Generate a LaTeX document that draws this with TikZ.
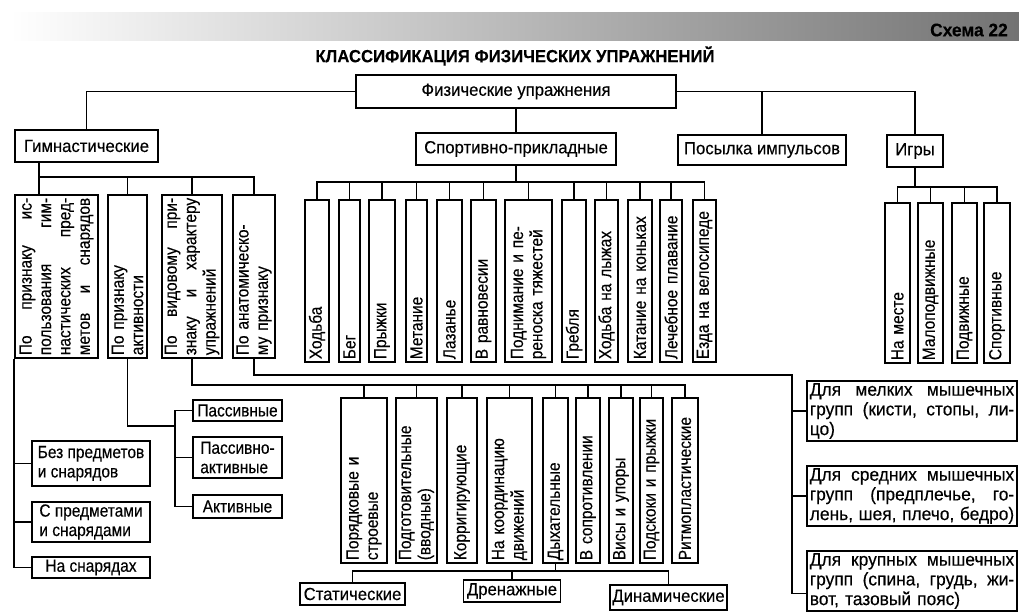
\documentclass[tikz,border=0pt]{standalone}
\usepackage{fontspec}
\setmainfont{Liberation Sans}[FakeStretch=0.95,FakeBold=0.3]
\newfontfamily\narrowfont{Liberation Sans}[FakeStretch=0.88,FakeBold=0.3]
\newcommand{\pxu}{0.025cm}
\newcommand{\jsp}{\hspace{0pt plus 1fill}}

\begin{document}
\begin{tikzpicture}[x=0.025cm,y=-0.025cm,
    box/.style={draw,line width=1.1pt,inner sep=1.5pt,align=left,font=\fontsize{12.5}{13.8}\selectfont},
    nfont/.style={font=\narrowfont\fontsize{12.5}{13.8}\selectfont},
    cell/.style n args={2}{box,minimum width=#1*\pxu,minimum height=#2*\pxu},
    ncell/.style n args={2}{cell={#1}{#2},nfont},
    tcell/.style n args={2}{cell={#1}{#2},font=\fontsize{13}{14}\selectfont,text width=#1*\pxu-4pt},
    vcell/.style n args={2}{box,nfont,rotate=90,minimum width=#1*\pxu,minimum height=#2*\pxu,text width=#1*\pxu-4pt},
    link/.style={line width=1.1pt}] %
    \useasboundingbox (0,0) rectangle (1019,612);
    \shade[left color=white,right color=black!55] (10,12) rectangle (1019,40);
    \node[font=\fontsize{13}{14}\bfseries] (scheme) at (969,30) {Схема 22};
    \node[font=\fontsize{12.5}{14}\bfseries] (title) at (515,56) {КЛАССИФИКАЦИЯ ФИЗИЧЕСКИХ УПРАЖНЕНИЙ};
    \node[cell={320}{33}] (phys) at (516,91.5) {Физические упражнения} ; %
    \node[cell={143}{32}] (gymn) at (86.5,146) {Гимнастические} ; %
    \node[cell={200}{32}] (sport) at (516,149) {Спортивно-прикладные} ; %
    \node[cell={168}{30}] (impulse) at (762,150) {Посылка импульсов} ; %
    \node[cell={56}{32}] (games) at (915,151) {Игры} ; %
    % gymnastics
    \node[vcell={163}{83}] (p1) at (56.5,276.5) {По\jsp признаку\jsp ис-\\пользования\jsp гим-\\настических\jsp пред-\\метов\jsp и\jsp снарядов};
    \node[vcell={163}{39}] (p2) at (127.5,276.5) {По признаку\\активности};
    \node[vcell={163}{60}] (p3) at (192,276.5) {По\jsp видовому\jsp при-\\знаку\jsp и\jsp характеру\\упражнений};
    \node[vcell={163}{42}] (p4) at (254,276.5) {По анатомическо-\\му признаку};
    \node[ncell={118}{45}] (noitems) at (91,463.5) {Без предметов\\и снарядов};
    \node[ncell={118}{40}] (withitems) at (91,522) {С предметами\\и снарядами};
    \node[ncell={118}{21}] (onapp) at (91,567.5) {На снарядах};
    \node[ncell={89}{21}] (passive) at (237.5,410.5) {Пассивные};
    \node[ncell={89}{41}] (passact) at (237.5,457.5) {Пассивно-\\активные};
    \node[ncell={89}{23}] (active) at (237.5,506.5) {Активные};
    \node[vcell={165}{46}] (k1) at (364,480.5) {Порядковые и\\строевые};
    \node[vcell={165}{41}] (k2) at (416.5,480.5) {Подготовительные\\(вводные)};
    \node[vcell={165}{30}] (k3) at (462,480.5) {Корригирующие};
    \node[vcell={165}{45}] (k4) at (509.5,480.5) {На координацию\\движений};
    \node[vcell={165}{25}] (k5) at (555.5,480.5) {Дыхательные};
    \node[vcell={165}{24}] (k6) at (588,480.5) {В сопротивлении};
    \node[vcell={165}{24}] (k7) at (621,480.5) {Висы и упоры};
    \node[vcell={165}{23}] (k8) at (651.5,480.5) {Подскоки и прыжки};
    \node[vcell={165}{26}] (k9) at (685,480.5) {Ритмопластические};
    \node[cell={105}{22}] (static) at (352.5,594) {Статические};
    \node[cell={97}{22}] (drain) at (512,591) {Дренажные};
    \node[cell={117}{25}] (dynamic) at (668.5,597.5) {Динамические};
    \node[tcell={210}{58}] (small) at (912,411) {Для\jsp мелких\jsp мышечных\\групп\jsp (кисти,\jsp стопы,\jsp ли-\\цо)};
    \node[tcell={210}{58}] (medium) at (912,496) {Для\jsp средних\jsp мышечных\\групп\jsp (предплечье,\jsp го-\\лень,\jsp шея,\jsp плечо,\jsp бедро)};
    \node[tcell={210}{58}] (large) at (912,581) {Для\jsp крупных\jsp мышечных\\групп\jsp (спина,\jsp грудь,\jsp жи-\\вот, тазовый пояс)};
    % sport
    \node[vcell={162}{24}] (s1) at (317,281) {Ходьба};
    \node[vcell={162}{21}] (s2) at (349.5,281) {Бег};
    \node[vcell={162}{26}] (s3) at (382,281) {Прыжки};
    \node[vcell={162}{21}] (s4) at (416.5,281) {Метание};
    \node[vcell={162}{25}] (s5) at (449.5,281) {Лазанье};
    \node[vcell={162}{25}] (s6) at (483.5,281) {В равновесии};
    \node[vcell={162}{47}] (s7) at (528.5,281) {Поднимание и пе-\\реноска тяжестей};
    \node[vcell={162}{24}] (s8) at (574,281) {Гребля};
    \node[vcell={162}{23}] (s9) at (606.5,281) {Ходьба на лыжах};
    \node[vcell={162}{24}] (s10) at (640,281) {Катание на коньках};
    \node[vcell={162}{22}] (s11) at (671,281) {Лечебное плавание};
    \node[vcell={162}{23}] (s12) at (704.5,281) {Езда на велосипеде};
    % games
    \node[vcell={160}{25}] (g1) at (897.5,283) {На месте};
    \node[vcell={160}{25}] (g2) at (930.5,283) {Малоподвижные};
    \node[vcell={160}{25}] (g3) at (964.5,283) {Подвижные};
    \node[vcell={160}{26}] (g4) at (997,283) {Спортивные};
    % connectors
    \coordinate (gbus) at (39,177);
    \coordinate (lbus) at (14,400);
    \coordinate (abus) at (175,426);
    \coordinate (kbus) at (192,385);
    \coordinate (bbus) at (555.5,571);
    \coordinate (mbus) at (792,375);
    \coordinate (sbus) at (516,182);
    \coordinate (ibus) at (915,187);
    \draw[link] (phys.west) -| (gymn.north);
    \draw[link] (phys.east) -| (games.north);
    \draw[link] (impulse.north) -- (impulse.north |- phys.east);
    \draw[link] (phys.south) -- (sport.north);
    \draw[link] (gymn.south -| gbus) -- (gbus |- p1.east);
    \draw[link] (gbus) -| (p4.east);
    \foreach \n in {p2,p3} \draw[link] (\n.east) -- (\n.east |- gbus);
    \draw[link] (p1.west -| lbus) |- (onapp.west);
    \draw[link] (noitems.west) -- (noitems.west -| lbus);
    \draw[link] (withitems.west) -- (withitems.west -| lbus);
    \draw[link] (p2.west) |- (abus);
    \draw[link] (passive.west) -| (abus |- active.west) -- (active.west);
    \draw[link] (passact.west) -- (passact.west -| abus);
    \draw[link] (p3.west) -- (kbus) -| (k9.east);
    \foreach \n in {k1,k2,k3,k4,k5,k6,k7,k8} \draw[link] (\n.east) -- (\n.east |- kbus);
    \draw[link] (k5.west) -- (bbus);
    \draw[link] (static.north) |- (bbus) -| (dynamic.north);
    \draw[link] (drain.north) -- (drain.north |- bbus);
    \draw[link] (p4.west) |- (mbus) |- ([yshift=-9pt]large.west);
    \draw[link] (small.west) -- (small.west -| mbus);
    \draw[link] (medium.west) -- (medium.west -| mbus);
    \draw[link] (sport.south) -- (sbus);
    \draw[link] (s1.east) |- (sbus) -| (s12.east);
    \foreach \n in {s2,s3,s4,s5,s6,s7,s8,s9,s10,s11} \draw[link] (\n.east) -- (\n.east |- sbus);
    \draw[link] (games.south) -- (ibus);
    \draw[link] (g1.east) |- (ibus) -| (g4.east);
    \foreach \n in {g2,g3} \draw[link] (\n.east) -- (\n.east |- ibus);
  \end{tikzpicture}
\end{document}
